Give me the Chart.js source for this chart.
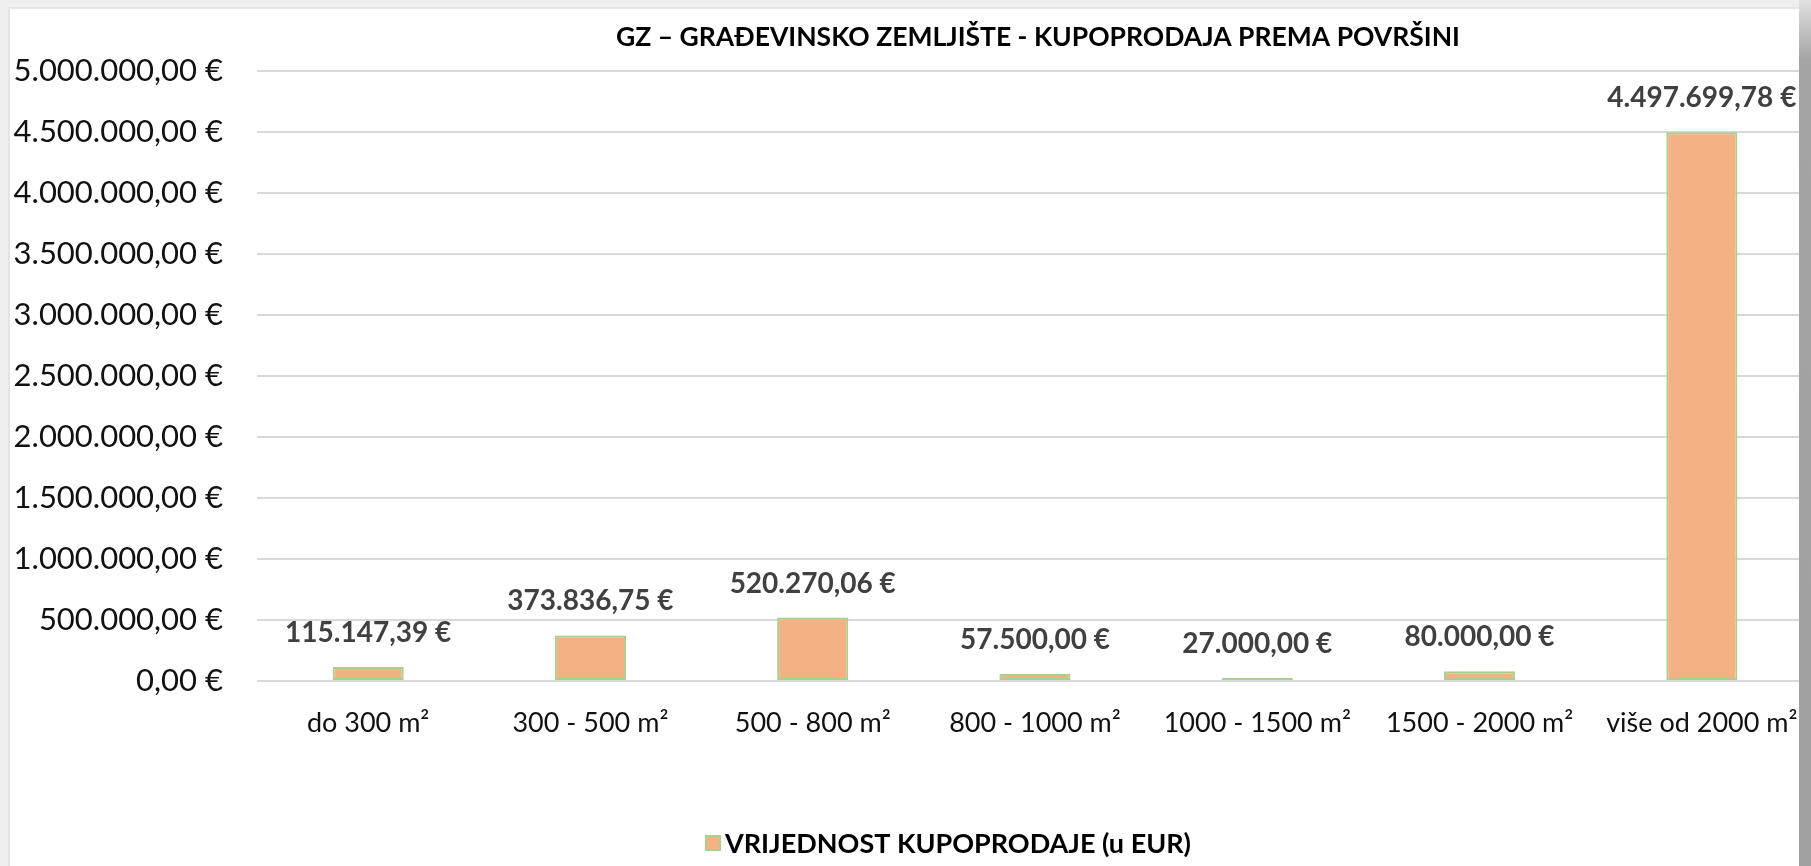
<!DOCTYPE html>
<html>
<head>
<meta charset="utf-8">
<script src="https://cdn.jsdelivr.net/npm/chart.js@4.4.1/dist/chart.umd.min.js"></script>
<style>
  html, body { margin: 0; padding: 0; background: #ffffff; overflow: hidden; }
  #frame { position: absolute; left: 0; top: 0; width: 1811px; height: 866px; background: #efefef; overflow: hidden; }
  #wrap { position: absolute; left: 10px; top: 9px; width: 1805px; height: 857px; background: #ffffff; }
  #edgeLeft { position: absolute; left: 8px; top: 8px; width: 2px; height: 858px; background: #e4e4e4; }
  #edgeTop { position: absolute; left: 8px; top: 7px; width: 1795px; height: 2px; background: #e6e6e6; }
  #shadow { position: absolute; left: 1799px; top: 0; width: 12px; height: 866px;
    background: linear-gradient(to bottom, #e0e0e0 0px, #a4a4a4 60px, #a0a0a0 100%); }
</style>
</head>
<body>
<div id="frame">
  <div id="edgeLeft"></div>
  <div id="edgeTop"></div>
  <div id="wrap"><canvas id="myChart" width="1805" height="857"></canvas></div>
  <div id="shadow"></div>
</div>
<script>
// podaci
var categories = ['do 300 m²', '300 - 500 m²', '500 - 800 m²', '800 - 1000 m²', '1000 - 1500 m²', '1500 - 2000 m²', 'više od 2000 m²'];
var values = [115147.39, 373836.75, 520270.06, 57500.00, 27000.00, 80000.00, 4497699.78];
var seriesName = 'VRIJEDNOST KUPOPRODAJE (u EUR)';
var chartTitle = 'GZ – GRAĐEVINSKO ZEMLJIŠTE - KUPOPRODAJA PREMA POVRŠINI';
var yMin = 0;
var yMax = 5000000;
var yStep = 500000;

var barColor = '#F4B183';
var barBorder = '#A9D18E';

// format 1.234.567,89 €
function formatEur(v) {
  var parts = Math.abs(v).toFixed(2).split('.');
  var intPart = parts[0].replace(/\B(?=(\d{3})+(?!\d))/g, '.');
  return (v < 0 ? '-' : '') + intPart + ',' + parts[1] + ' €';
}

var titlePlugin = {
  id: 'centerTitle',
  afterDraw: function (chart) {
    var ctx = chart.ctx;
    var area = chart.chartArea;
    ctx.save();
    ctx.font = 'bold 26.5px Lato';
    ctx.fillStyle = '#000000';
    ctx.textAlign = 'center';
    ctx.textBaseline = 'middle';
    ctx.fillText(chartTitle, (area.left + area.right) / 2 + 3, 28);
    ctx.restore();
  }
};

// legenda ispod grafa (mali razmak izmedju kvadrata i teksta kao u Excelu)
var legendPlugin = {
  id: 'bottomLegend',
  afterDraw: function (chart) {
    var ctx = chart.ctx;
    ctx.save();
    ctx.font = 'bold 27px Lato';
    var tw = ctx.measureText(seriesName).width;
    var box = 16;
    var gap = 4;
    var left = 938 - (box + gap + tw) / 2;
    var cy = 834;
    ctx.fillStyle = barColor;
    ctx.fillRect(left, cy - box / 2, box, box);
    ctx.strokeStyle = barBorder;
    ctx.lineWidth = 2;
    ctx.strokeRect(left + 1, cy - box / 2 + 1, box - 2, box - 2);
    ctx.fillStyle = '#000000';
    ctx.textAlign = 'left';
    ctx.textBaseline = 'middle';
    ctx.fillText(seriesName, left + box + gap, cy + 1);
    ctx.restore();
  }
};

var valueLabels = {
  id: 'valueLabels',
  afterDatasetsDraw: function (chart) {
    var ctx = chart.ctx;
    var meta = chart.getDatasetMeta(0);
    ctx.save();
    ctx.font = 'bold 28px Lato';
    ctx.fillStyle = '#404040';
    ctx.textAlign = 'center';
    ctx.textBaseline = 'middle';
    meta.data.forEach(function (bar, i) {
      ctx.fillText(formatEur(values[i]), bar.x, bar.y - 34);
    });
    ctx.restore();
  }
};

var ctx = document.getElementById('myChart').getContext('2d');

var myChart = new Chart(ctx, {
  type: 'bar',
  data: {
    labels: categories,
    datasets: [{
      label: seriesName,
      data: values,
      backgroundColor: barColor,
      borderColor: barBorder,
      borderWidth: 2,
      borderSkipped: false,
      barPercentage: 0.32,
      categoryPercentage: 1
    }]
  },
  options: {
    responsive: false,
    animation: false,
    layout: { padding: { top: 62, right: 2, bottom: 0, left: 0 } },
    plugins: {
      title: { display: false },
      tooltip: { enabled: false },
      legend: { display: false }
    },
    scales: {
      x: {
        grid: { display: false, drawTicks: false },
        border: { display: false },
        ticks: {
          color: '#111111',
          padding: 26,
          maxRotation: 0,
          autoSkip: false,
          font: { family: 'Lato', size: 27 }
        },
        afterFit: function (scale) {
          scale.height = 185;
          scale.paddingLeft = 0;
          scale.paddingRight = 0;
        }
      },
      y: {
        min: yMin,
        max: yMax,
        grid: { color: '#d9d9d9', lineWidth: 2, drawTicks: false },
        border: { display: false },
        ticks: {
          stepSize: yStep,
          color: '#111111',
          padding: 34,
          font: { family: 'Lato', size: 31 },
          callback: function (v) { return formatEur(v); }
        },
        afterFit: function (scale) { scale.width = 247; }
      }
    }
  },
  plugins: [titlePlugin, valueLabels, legendPlugin]
});
</script>
</body>
</html>
